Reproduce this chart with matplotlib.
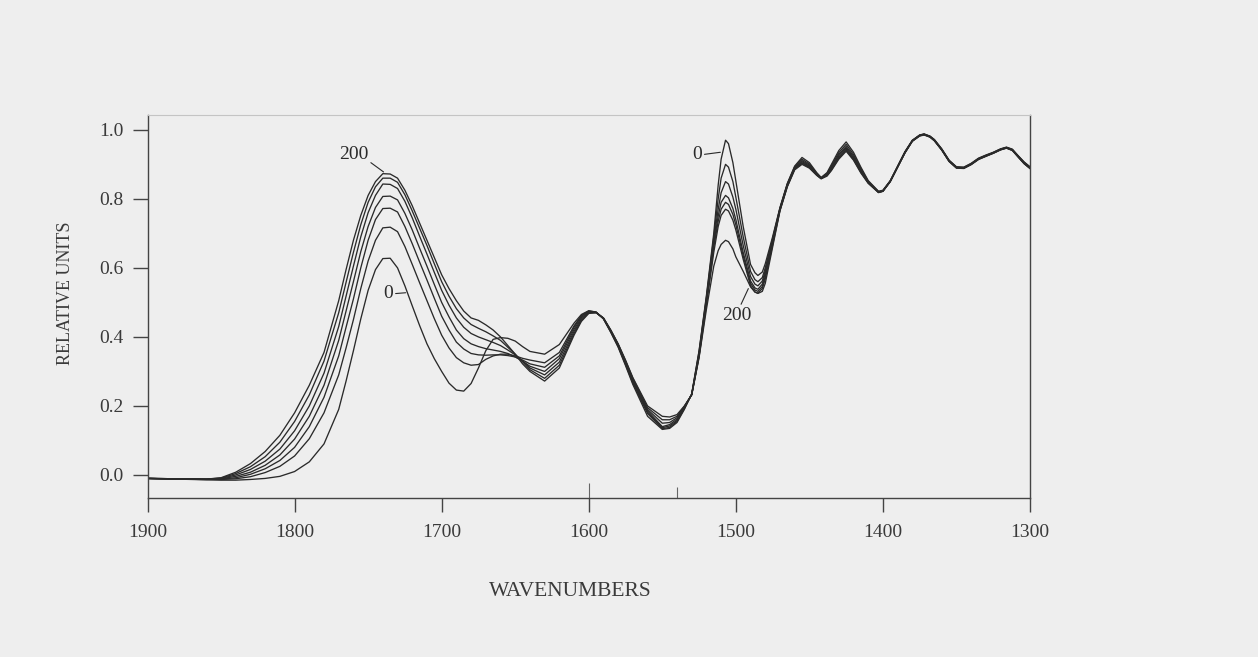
import matplotlib
matplotlib.use("Agg")
import matplotlib.pyplot as plt

# Shared wavenumber grid (cm^-1), descending
wavenumbers = [
    1900, 1880, 1860, 1850, 1840, 1830, 1820, 1810, 1800,
    1790, 1780, 1770, 1765, 1760, 1755, 1750, 1745, 1740, 1735,
    1730, 1725, 1720, 1715, 1710, 1705, 1700, 1695, 1690, 1685,
    1680, 1675, 1670, 1665, 1660, 1655, 1650, 1645, 1640, 1630,
    1620, 1610, 1605, 1600, 1595, 1590, 1585, 1580, 1575, 1570,
    1560, 1550, 1545, 1540, 1535, 1530, 1525, 1520, 1515, 1512,
    1510, 1507, 1505, 1502, 1500, 1495, 1490, 1487, 1485, 1482,
    1480, 1475, 1470, 1465, 1460, 1455, 1450, 1445, 1442, 1438,
    1435, 1430, 1425, 1420, 1415, 1410, 1403, 1400, 1395, 1390,
    1385, 1380, 1375, 1372, 1368, 1365, 1360, 1355, 1350, 1345,
    1340, 1335, 1330, 1325, 1320, 1316, 1312, 1308, 1304, 1300,
]

spectrum_0 = [
    -0.010, -0.012, -0.014, -0.015, -0.015, -0.013, -0.010, -0.004, 0.010,
    0.038, 0.090, 0.190, 0.272, 0.360, 0.452, 0.535, 0.595, 0.627, 0.628,
    0.600, 0.548, 0.490, 0.433, 0.380, 0.337, 0.300, 0.266, 0.246, 0.243,
    0.265, 0.310, 0.360, 0.393, 0.398, 0.396, 0.388, 0.372, 0.358, 0.350,
    0.378, 0.440, 0.465, 0.476, 0.472, 0.452, 0.413, 0.370, 0.317, 0.262,
    0.170, 0.132, 0.135, 0.152, 0.190, 0.235, 0.360, 0.520, 0.700, 0.840,
    0.915, 0.970, 0.960, 0.905, 0.852, 0.720, 0.610, 0.586, 0.578, 0.588,
    0.612, 0.690, 0.775, 0.845, 0.895, 0.920, 0.905, 0.876, 0.862, 0.876,
    0.900, 0.940, 0.965, 0.935, 0.892, 0.853, 0.822, 0.825, 0.853, 0.895,
    0.937, 0.970, 0.985, 0.988, 0.982, 0.972, 0.945, 0.912, 0.893, 0.892,
    0.903, 0.918, 0.927, 0.935, 0.945, 0.950, 0.944, 0.925, 0.907, 0.893,
]

spectrum_1 = [
    -0.010, -0.012, -0.013, -0.013, -0.011, -0.005, 0.007, 0.025, 0.055,
    0.105, 0.180, 0.290, 0.368, 0.450, 0.540, 0.620, 0.680, 0.716, 0.718,
    0.705, 0.662, 0.610, 0.557, 0.505, 0.453, 0.405, 0.368, 0.340, 0.325,
    0.318, 0.320, 0.335, 0.345, 0.350, 0.350, 0.345, 0.338, 0.333, 0.325,
    0.355, 0.432, 0.462, 0.475, 0.472, 0.453, 0.414, 0.372, 0.320, 0.266,
    0.178, 0.134, 0.138, 0.155, 0.192, 0.235, 0.358, 0.515, 0.690, 0.800,
    0.860, 0.900, 0.892, 0.850, 0.805, 0.690, 0.590, 0.566, 0.560, 0.572,
    0.600, 0.685, 0.773, 0.843, 0.893, 0.915, 0.901, 0.874, 0.861, 0.874,
    0.896, 0.934, 0.958, 0.929, 0.888, 0.851, 0.821, 0.824, 0.852, 0.894,
    0.936, 0.969, 0.985, 0.988, 0.981, 0.971, 0.944, 0.911, 0.892, 0.891,
    0.902, 0.917, 0.926, 0.934, 0.944, 0.949, 0.943, 0.924, 0.906, 0.892,
]

spectrum_2 = [
    -0.010, -0.012, -0.013, -0.012, -0.008, 0.002, 0.018, 0.042, 0.080,
    0.140, 0.225, 0.345, 0.428, 0.510, 0.600, 0.680, 0.740, 0.772, 0.773,
    0.762, 0.720, 0.670, 0.617, 0.565, 0.512, 0.460, 0.420, 0.385, 0.365,
    0.352, 0.348, 0.347, 0.348, 0.348, 0.346, 0.342, 0.333, 0.322, 0.312,
    0.345, 0.428, 0.460, 0.474, 0.471, 0.453, 0.416, 0.374, 0.323, 0.270,
    0.182, 0.137, 0.142, 0.158, 0.195, 0.233, 0.352, 0.510, 0.680, 0.770,
    0.818, 0.850, 0.843, 0.805, 0.770, 0.665, 0.575, 0.553, 0.548, 0.562,
    0.592, 0.682, 0.772, 0.842, 0.891, 0.911, 0.898, 0.872, 0.860, 0.872,
    0.892, 0.929, 0.952, 0.924, 0.884, 0.849, 0.820, 0.823, 0.851, 0.893,
    0.935, 0.969, 0.984, 0.987, 0.981, 0.970, 0.943, 0.911, 0.891, 0.890,
    0.901, 0.916, 0.925, 0.934, 0.944, 0.949, 0.942, 0.923, 0.905, 0.891,
]

spectrum_3 = [
    -0.010, -0.011, -0.012, -0.011, -0.004, 0.008, 0.028, 0.058, 0.104,
    0.170, 0.260, 0.390, 0.475, 0.560, 0.647, 0.720, 0.775, 0.807, 0.808,
    0.797, 0.758, 0.710, 0.657, 0.605, 0.552, 0.500, 0.458, 0.420, 0.395,
    0.380, 0.372, 0.366, 0.362, 0.358, 0.352, 0.342, 0.330, 0.315, 0.300,
    0.337, 0.422, 0.456, 0.473, 0.471, 0.454, 0.417, 0.376, 0.326, 0.274,
    0.186, 0.140, 0.146, 0.162, 0.197, 0.233, 0.348, 0.505, 0.670, 0.750,
    0.790, 0.810, 0.803, 0.772, 0.740, 0.645, 0.562, 0.542, 0.538, 0.553,
    0.585, 0.677, 0.770, 0.840, 0.889, 0.908, 0.895, 0.871, 0.860, 0.870,
    0.889, 0.925, 0.948, 0.920, 0.881, 0.848, 0.820, 0.823, 0.851, 0.893,
    0.935, 0.968, 0.984, 0.987, 0.980, 0.970, 0.943, 0.910, 0.891, 0.890,
    0.901, 0.916, 0.925, 0.933, 0.943, 0.948, 0.942, 0.923, 0.904, 0.890,
]

spectrum_4 = [
    -0.010, -0.011, -0.012, -0.010, 0.000, 0.016, 0.040, 0.075, 0.128,
    0.200, 0.295, 0.430, 0.518, 0.605, 0.690, 0.760, 0.810, 0.843, 0.842,
    0.830, 0.793, 0.745, 0.692, 0.640, 0.587, 0.535, 0.492, 0.455, 0.428,
    0.410, 0.400, 0.392, 0.384, 0.375, 0.362, 0.348, 0.330, 0.310, 0.290,
    0.327, 0.416, 0.452, 0.472, 0.471, 0.454, 0.418, 0.378, 0.329, 0.277,
    0.190, 0.150, 0.152, 0.166, 0.198, 0.233, 0.345, 0.500, 0.660, 0.735,
    0.770, 0.790, 0.784, 0.755, 0.725, 0.635, 0.555, 0.536, 0.532, 0.546,
    0.576, 0.672, 0.768, 0.838, 0.887, 0.905, 0.893, 0.870, 0.859, 0.869,
    0.886, 0.921, 0.944, 0.917, 0.879, 0.847, 0.819, 0.822, 0.851, 0.892,
    0.934, 0.968, 0.983, 0.986, 0.980, 0.969, 0.942, 0.909, 0.890, 0.889,
    0.900, 0.915, 0.924, 0.933, 0.943, 0.948, 0.941, 0.922, 0.903, 0.889,
]

spectrum_5 = [
    -0.010, -0.011, -0.012, -0.009, 0.004, 0.024, 0.053, 0.095, 0.155,
    0.232, 0.330, 0.470, 0.558, 0.645, 0.725, 0.790, 0.835, 0.860, 0.860,
    0.848, 0.812, 0.765, 0.715, 0.665, 0.612, 0.560, 0.518, 0.482, 0.455,
    0.436, 0.425, 0.415, 0.403, 0.390, 0.370, 0.350, 0.328, 0.305, 0.280,
    0.318, 0.410, 0.448, 0.470, 0.470, 0.455, 0.419, 0.379, 0.331, 0.280,
    0.195, 0.160, 0.160, 0.170, 0.199, 0.232, 0.342, 0.492, 0.645, 0.720,
    0.752, 0.770, 0.765, 0.738, 0.710, 0.625, 0.548, 0.530, 0.527, 0.540,
    0.568, 0.666, 0.766, 0.836, 0.886, 0.903, 0.891, 0.869, 0.859, 0.868,
    0.884, 0.918, 0.941, 0.914, 0.877, 0.846, 0.819, 0.822, 0.850, 0.892,
    0.934, 0.967, 0.983, 0.986, 0.979, 0.969, 0.942, 0.909, 0.890, 0.889,
    0.900, 0.915, 0.924, 0.932, 0.942, 0.947, 0.941, 0.921, 0.902, 0.888,
]

spectrum_6 = [
    -0.010, -0.011, -0.012, -0.008, 0.008, 0.033, 0.068, 0.115, 0.180,
    0.260, 0.355, 0.505, 0.595, 0.680, 0.752, 0.810, 0.850, 0.873, 0.872,
    0.860, 0.825, 0.780, 0.730, 0.680, 0.630, 0.580, 0.540, 0.505, 0.475,
    0.455, 0.448, 0.435, 0.420, 0.400, 0.375, 0.350, 0.322, 0.300, 0.272,
    0.310, 0.405, 0.445, 0.468, 0.470, 0.455, 0.420, 0.380, 0.333, 0.282,
    0.200, 0.170, 0.168, 0.175, 0.200, 0.232, 0.340, 0.480, 0.605, 0.650,
    0.668, 0.680, 0.676, 0.655, 0.632, 0.590, 0.545, 0.530, 0.526, 0.532,
    0.555, 0.660, 0.765, 0.835, 0.884, 0.900, 0.889, 0.868, 0.858, 0.866,
    0.882, 0.915, 0.938, 0.912, 0.875, 0.845, 0.818, 0.822, 0.850, 0.892,
    0.933, 0.967, 0.982, 0.985, 0.979, 0.968, 0.941, 0.908, 0.889, 0.888,
    0.899, 0.914, 0.923, 0.932, 0.942, 0.947, 0.940, 0.921, 0.902, 0.888,
]

spectra = [spectrum_0, spectrum_1, spectrum_2, spectrum_3,
           spectrum_4, spectrum_5, spectrum_6]

x_ticks = [1900, 1800, 1700, 1600, 1500, 1400, 1300]
x_tick_labels = ["1900", "1800", "1700", "1600", "1500", "1400", "1300"]
y_ticks = [0.0, 0.2, 0.4, 0.6, 0.8, 1.0]
y_tick_labels = ["0.0", "0.2", "0.4", "0.6", "0.8", "1.0"]
marker_wavenumbers = [1600, 1540]

paper = "#eeeeee"
ink = "#2a2a2a"
text_ink = "#3a3a3a"
serif = ["Liberation Serif", "DejaVu Serif"]

W, H = 1258, 657
fig = plt.figure(figsize=(W / 100, H / 100), dpi=100)
fig.patch.set_facecolor(paper)

left, right, top, bottom = 147.5, 1030.0, 115.0, 498.0
ax = fig.add_axes([left / W, 1 - bottom / H, (right - left) / W, (bottom - top) / H])
ax.set_facecolor(paper)

for spec in spectra:
    ax.plot(wavenumbers, spec, color=ink, lw=0.95, solid_joinstyle="round")

ax.set_xlim(1900, 1300)
ax.set_ylim(-0.0667, 1.043)

ax.set_xticks(x_ticks)
ax.set_xticklabels(x_tick_labels, family=serif, fontsize=14, color=text_ink)
ax.set_yticks(y_ticks)
ax.set_yticklabels(y_tick_labels, family=serif, fontsize=14, color=text_ink)

ax.tick_params(axis="x", which="major", direction="out", length=10, width=1.0,
               pad=9, color="#444444")
ax.tick_params(axis="y", which="major", direction="out", length=11, width=1.0,
               pad=6, color="#444444")

# Short inward marks on the wavenumber axis
ax.vlines(marker_wavenumbers, 0, [0.038, 0.028], transform=ax.get_xaxis_transform(),
          color="#666666", lw=0.8)

for side in ("left", "bottom", "right"):
    ax.spines[side].set_color("#444444")
    ax.spines[side].set_linewidth(1.0)
ax.spines["top"].set_color("#c4c4c4")
ax.spines["top"].set_linewidth(0.8)

# Axis titles
fig.text(65 / W, 1 - 293 / H, "RELATIVE UNITS", rotation=90, ha="center",
         va="center", family=serif, fontsize=13, color=text_ink)
fig.text(570 / W, 1 - 592 / H, "WAVENUMBERS", ha="center", va="center",
         family=serif, fontsize=15.5, color=text_ink)

# Time labels on the curve families
lead = dict(arrowstyle="-", lw=0.8, color=ink, shrinkA=0, shrinkB=0)
ax.annotate("200", xy=(1739.5, 0.878), xytext=(1760, 0.928), ha="center",
            va="center", family=serif, fontsize=14, color=ink,
            arrowprops=dict(lead, relpos=(1.0, 0.15)))
ax.annotate("0", xy=(1724.5, 0.528), xytext=(1736.5, 0.525), ha="center",
            va="center", family=serif, fontsize=14, color=ink,
            arrowprops=dict(lead, relpos=(1.0, 0.5)))
ax.annotate("0", xy=(1510.5, 0.935), xytext=(1526.5, 0.928), ha="center",
            va="center", family=serif, fontsize=14, color=ink,
            arrowprops=dict(lead, relpos=(1.0, 0.5)))
ax.annotate("200", xy=(1491.5, 0.54), xytext=(1499.3, 0.462), ha="center",
            va="center", family=serif, fontsize=14, color=ink,
            arrowprops=dict(lead, relpos=(0.6, 1.0)))

fig.savefig("out.png", dpi=100, facecolor=paper)
